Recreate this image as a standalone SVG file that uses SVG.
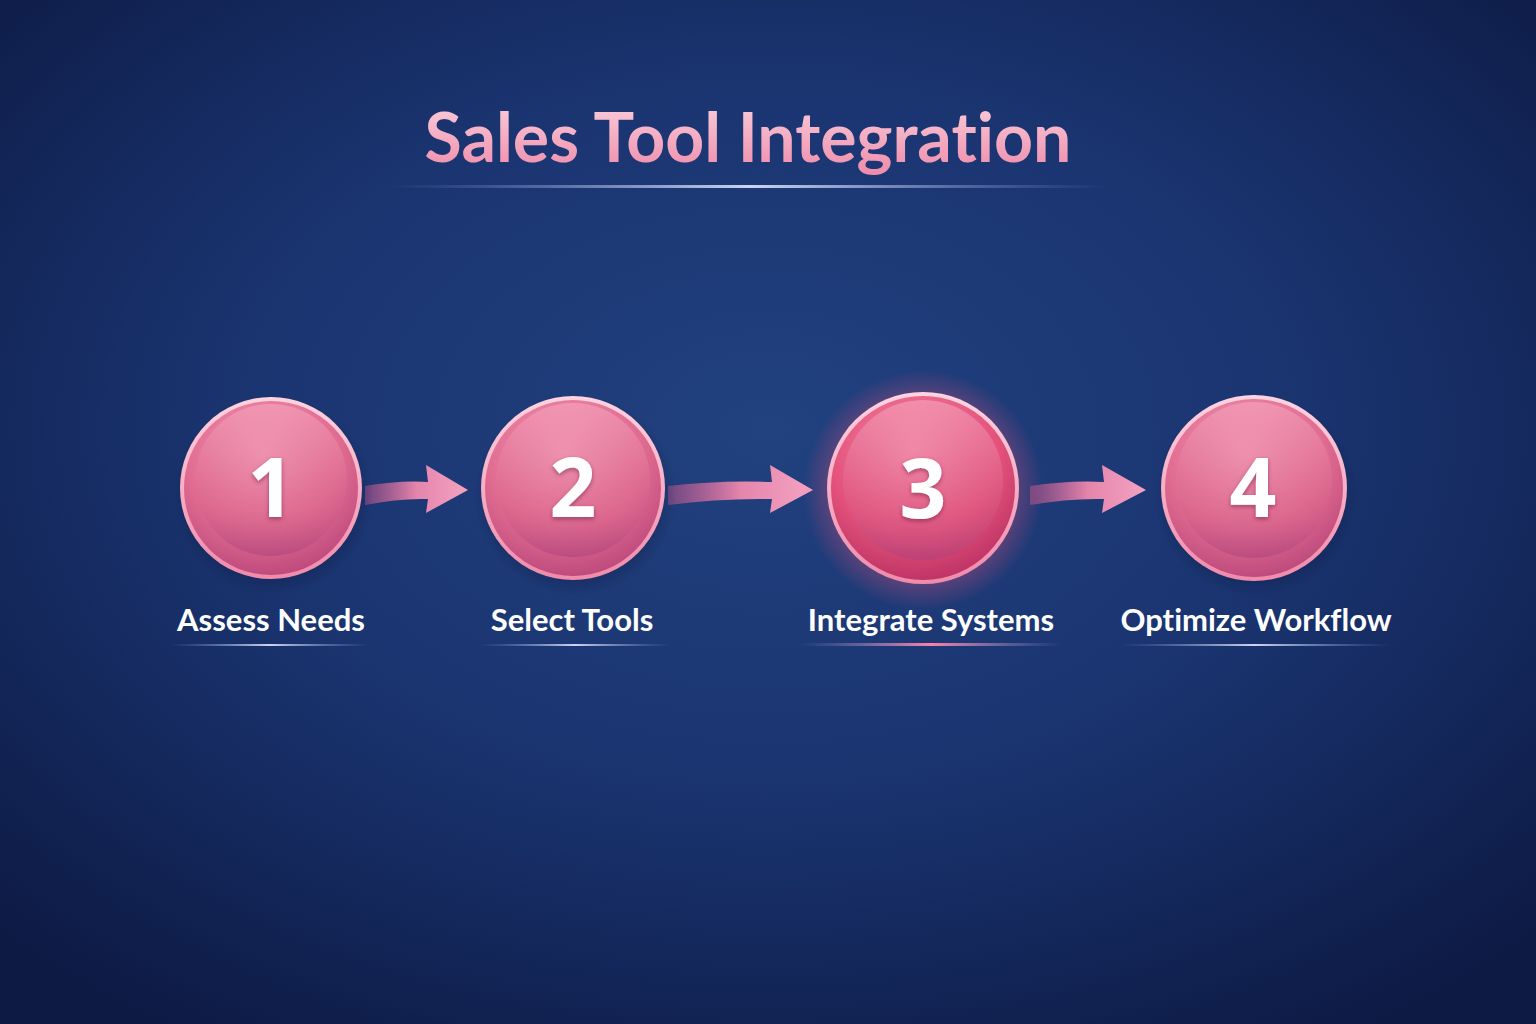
<svg xmlns="http://www.w3.org/2000/svg" width="1536" height="1024" viewBox="0 0 1536 1024">
<defs>
<radialGradient id="bg" cx="50%" cy="42%" r="70%">
<stop offset="0" stop-color="#21417f"/>
<stop offset="0.5" stop-color="#1a3470"/>
<stop offset="1" stop-color="#0d1a44"/>
</radialGradient>
<linearGradient id="title" x1="0" y1="0" x2="0" y2="1">
<stop offset="0" stop-color="#fbd3df"/>
<stop offset="1" stop-color="#ee8aa9"/>
</linearGradient>
<radialGradient id="ball" cx="45%" cy="30%" r="75%">
<stop offset="0" stop-color="#f39bb7"/>
<stop offset="0.6" stop-color="#e06b90"/>
<stop offset="1" stop-color="#b9457a"/>
</radialGradient>
<radialGradient id="ball3" cx="45%" cy="30%" r="75%">
<stop offset="0" stop-color="#f68aa8"/>
<stop offset="0.6" stop-color="#e4537c"/>
<stop offset="1" stop-color="#b82f62"/>
</radialGradient>
<linearGradient id="rim" x1="0" y1="0" x2="0" y2="1">
<stop offset="0" stop-color="#ffd3e0"/>
<stop offset="1" stop-color="#f08aaa"/>
</linearGradient>
<linearGradient id="inner" x1="0" y1="0" x2="0" y2="1">
<stop offset="0" stop-color="#f7a6bf" stop-opacity="0.6"/>
<stop offset="0.7" stop-color="#d65f88" stop-opacity="0.3"/>
<stop offset="1" stop-color="#a8407a" stop-opacity="0.5"/>
</linearGradient>
<linearGradient id="arrow" x1="0" y1="0" x2="1" y2="0">
<stop offset="0" stop-color="#c0548c" stop-opacity="0.5"/>
<stop offset="0.5" stop-color="#e585ac"/>
<stop offset="1" stop-color="#f4a3c2"/>
</linearGradient>
<linearGradient id="uline" x1="0" y1="0" x2="1" y2="0">
<stop offset="0" stop-color="#8aa0e0" stop-opacity="0"/>
<stop offset="0.5" stop-color="#e0e6ff" stop-opacity="0.9"/>
<stop offset="1" stop-color="#8aa0e0" stop-opacity="0"/>
</linearGradient>
<linearGradient id="uline3" x1="0" y1="0" x2="1" y2="0">
<stop offset="0" stop-color="#8aa0e0" stop-opacity="0"/>
<stop offset="0.5" stop-color="#ff7fa8" stop-opacity="1"/>
<stop offset="1" stop-color="#8aa0e0" stop-opacity="0"/>
</linearGradient>
<radialGradient id="glow3" cx="50%" cy="50%" r="50%">
<stop offset="0.6" stop-color="#e0507f" stop-opacity="0.55"/>
<stop offset="1" stop-color="#e0507f" stop-opacity="0"/>
</radialGradient>
<radialGradient id="glow" cx="50%" cy="50%" r="50%">
<stop offset="0.7" stop-color="#0a1336" stop-opacity="0.45"/>
<stop offset="1" stop-color="#0a1336" stop-opacity="0"/>
</radialGradient>
<filter id="ts" x="-10%" y="-10%" width="120%" height="130%">
<feDropShadow dx="0" dy="2" stdDeviation="2" flood-color="#5a1030" flood-opacity="0.5"/>
</filter>
</defs>
<style>
.num{font-family:"Open Sans","DejaVu Sans",sans-serif;font-weight:700;font-size:82px;fill:#ffffff;text-anchor:middle}
.lbl{font-family:Lato,"Open Sans",sans-serif;font-weight:700;font-size:31px;fill:#ffffff;text-anchor:middle;font-variant-ligatures:none}
.ttl{font-family:Lato,"Open Sans",sans-serif;font-weight:700;font-size:68px;fill:url(#title);text-anchor:middle;font-variant-ligatures:none}
.rim{fill:url(#rim)}
.inner{fill:url(#inner)}
.arr{fill:url(#arrow)}
</style>
<rect width="1536" height="1024" fill="url(#bg)"/>
<g id="title-group">
<text class="ttl" x="748" y="162">Sales Tool Integration</text>
<rect x="390" y="185" width="720" height="3" fill="url(#uline)"/>
</g>
<g id="connectors">
<path class="arr" d="M365,486 Q400,480 428,482 L426,465 L468,490 L426,513 L428,499 Q400,498 365,505 Z"/>
<path class="arr" d="M668,486 Q720,480 772,482 L770,465 L813,490 L770,513 L772,499 Q720,498 668,505 Z"/>
<path class="arr" d="M1030,486 Q1070,480 1104,482 L1102,465 L1146,490 L1102,513 L1104,499 Q1070,498 1030,505 Z"/>
</g>
<g id="node1">
<circle cx="273" cy="495" r="100" fill="url(#glow)"/>
<circle class="rim" cx="271" cy="488" r="91"/>
<circle fill="url(#ball)" cx="271" cy="488" r="87"/>
<circle class="inner" cx="271" cy="480" r="76"/>
<text class="num" x="271" y="517" filter="url(#ts)">1</text>
<text class="lbl" x="271" y="631">Assess Needs</text>
<rect x="170" y="644" width="200" height="2" fill="url(#uline)"/>
</g>
<g id="node2">
<circle cx="575" cy="495" r="101" fill="url(#glow)"/>
<circle class="rim" cx="573" cy="488" r="92"/>
<circle fill="url(#ball)" cx="573" cy="488" r="88"/>
<circle class="inner" cx="573" cy="480" r="77"/>
<text class="num" x="573" y="517" filter="url(#ts)">2</text>
<text class="lbl" x="572" y="631">Select Tools</text>
<rect x="480" y="644" width="190" height="2" fill="url(#uline)"/>
</g>
<g id="node3">
<circle cx="923" cy="490" r="120" fill="url(#glow3)"/>
<circle class="rim" cx="923" cy="488" r="96"/>
<circle fill="url(#ball3)" cx="923" cy="488" r="92"/>
<circle class="inner" cx="923" cy="480" r="80"/>
<text class="num" x="923" y="518" filter="url(#ts)">3</text>
<text class="lbl" x="931" y="631">Integrate Systems</text>
<rect x="800" y="643" width="262" height="3" fill="url(#uline3)"/>
</g>
<g id="node4">
<circle cx="1256" cy="495" r="102" fill="url(#glow)"/>
<circle class="rim" cx="1254" cy="488" r="93"/>
<circle fill="url(#ball)" cx="1254" cy="488" r="89"/>
<circle class="inner" cx="1254" cy="480" r="78"/>
<text class="num" x="1253" y="517" filter="url(#ts)">4</text>
<text class="lbl" x="1256" y="631">Optimize Workflow</text>
<rect x="1120" y="644" width="270" height="2" fill="url(#uline)"/>
</g>
</svg>
